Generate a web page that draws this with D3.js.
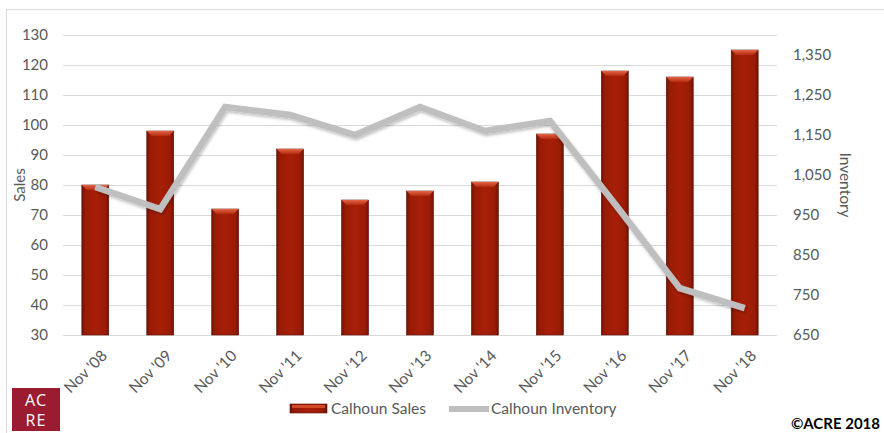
<!DOCTYPE html>
<html>
<head>
<meta charset="utf-8">
<script src="https://cdn.jsdelivr.net/npm/d3@7/dist/d3.min.js"></script>
<style>
  html, body { margin: 0; padding: 0; background: #fff; }
  svg { display: block; font-family: Lato, "Open Sans", sans-serif; }
</style>
</head>
<body>
<svg id="chart" width="884" height="433"></svg>
<script>
const categories = ["Nov '08", "Nov '09", "Nov '10", "Nov '11", "Nov '12", "Nov '13", "Nov '14", "Nov '15", "Nov '16", "Nov '17", "Nov '18"];
const sales = [80, 98, 72, 92, 75, 78, 81, 97, 118, 116, 125];
const inventory = [1020, 965, 1220, 1200, 1150, 1220, 1160, 1185, 978, 767, 717];
const salesTicks = [30, 40, 50, 60, 70, 80, 90, 100, 110, 120, 130];
const inventoryTicks = [650, 750, 850, 950, 1050, 1150, 1250, 1350];

const svg = d3.select("#chart");
const m = { left: 63, right: 777, top: 35, bottom: 335 };

const x = d3.scaleBand().domain(categories).range([m.left, m.right]).paddingInner(0.585).paddingOuter(0.29);
const yL = d3.scaleLinear().domain([30, 130]).range([m.bottom, m.top]);
const yR = d3.scaleLinear().domain([650, 1400]).range([m.bottom, m.top]);

const defs = svg.append("defs");
const grad = defs.append("linearGradient").attr("id", "barGrad").attr("x1", "0").attr("x2", "1").attr("y1", "0").attr("y2", "0");
grad.append("stop").attr("offset", "0").attr("stop-color", "#6e1306");
grad.append("stop").attr("offset", "0.12").attr("stop-color", "#981b06");
grad.append("stop").attr("offset", "0.5").attr("stop-color", "#a81f07");
grad.append("stop").attr("offset", "0.88").attr("stop-color", "#981b06");
grad.append("stop").attr("offset", "1").attr("stop-color", "#6e1306");
const capGrad = defs.append("linearGradient").attr("id", "capGrad").attr("x1", "0").attr("x2", "0").attr("y1", "0").attr("y2", "1");
capGrad.append("stop").attr("offset", "0").attr("stop-color", "#e46444");
capGrad.append("stop").attr("offset", "1").attr("stop-color", "#b42c10");
const shadow = defs.append("filter").attr("id", "lineShadow").attr("x", "-10%").attr("y", "-10%").attr("width", "120%").attr("height", "130%");
shadow.append("feDropShadow").attr("dx", 1).attr("dy", 2).attr("stdDeviation", 1.5).attr("flood-color", "#000").attr("flood-opacity", 0.25);

const tickFont = 15;

// outer frame
svg.append("rect").attr("x", 6.5).attr("y", 9.5).attr("width", 890).attr("height", 440)
  .attr("fill", "none").attr("stroke", "#d9d9d9");

// gridlines
svg.append("g").selectAll("line").data(salesTicks).join("line")
  .attr("x1", m.left).attr("x2", m.right)
  .attr("y1", d => Math.round(yL(d)) + 0.5).attr("y2", d => Math.round(yL(d)) + 0.5)
  .attr("stroke", "#d9d9d9").attr("stroke-width", 1);

// left axis
const leftAxis = svg.append("g").attr("transform", `translate(${m.left - 15},0)`)
  .call(d3.axisLeft(yL).tickValues(salesTicks).tickSize(0).tickPadding(0));
leftAxis.select(".domain").remove();
leftAxis.selectAll("text").attr("font-size", tickFont).attr("fill", "#595959").attr("font-family", "Lato, sans-serif");

// right axis
const rightAxis = svg.append("g").attr("transform", `translate(${m.right + 16},0)`)
  .call(d3.axisRight(yR).tickValues(inventoryTicks).tickSize(0).tickPadding(0).tickFormat(d3.format(",")));
rightAxis.select(".domain").remove();
rightAxis.selectAll("text").attr("font-size", tickFont).attr("fill", "#595959").attr("font-family", "Lato, sans-serif");

// bars
const bars = svg.append("g").selectAll("g").data(categories).join("g");
bars.append("rect")
  .attr("x", d => x(d)).attr("width", x.bandwidth())
  .attr("y", (d, i) => yL(sales[i])).attr("height", (d, i) => yL(30) - yL(sales[i]))
  .attr("fill", "url(#barGrad)").attr("stroke", "#5a1005").attr("stroke-width", 0.6);
bars.append("path")
  .attr("d", (d, i) => {
    const x0 = x(d), w = x.bandwidth(), y0 = yL(sales[i]);
    return `M${x0},${y0}L${x0 + w},${y0}L${x0 + w - 5},${y0 + 5}L${x0 + 5},${y0 + 5}Z`;
  })
  .attr("fill", "url(#capGrad)");

// inventory line
const line = d3.line().x((d, i) => x(categories[i]) + x.bandwidth() / 2).y(d => yR(d));
svg.append("path").datum(inventory).attr("d", line)
  .attr("fill", "none").attr("stroke", "#bfbfbf").attr("stroke-width", 6.5)
  .attr("stroke-linejoin", "miter").attr("filter", "url(#lineShadow)");

// category labels
svg.append("g").selectAll("text").data(categories).join("text")
  .attr("transform", d => `translate(${x(d) + x.bandwidth() / 2 + 5},${m.bottom + 14}) rotate(-45)`)
  .attr("text-anchor", "end").attr("dy", "0.7em")
  .attr("font-size", 15.5).attr("fill", "#595959").text(d => d);

// axis titles
svg.append("text").attr("transform", "translate(25,185) rotate(-90)")
  .attr("text-anchor", "middle").attr("font-size", 15).attr("fill", "#595959").text("Sales");
svg.append("text").attr("transform", "translate(840,185) rotate(90)")
  .attr("text-anchor", "middle").attr("font-size", 15.5).attr("fill", "#595959").text("Inventory");

// legend
const lg = svg.append("g");
lg.append("rect").attr("x", 290).attr("y", 404).attr("width", 37).attr("height", 9)
  .attr("fill", "url(#barGrad)").attr("stroke", "#5a1005").attr("stroke-width", 0.6);
lg.append("rect").attr("x", 292).attr("y", 405).attr("width", 33).attr("height", 3).attr("fill", "#d04a2a");
lg.append("text").attr("x", 331).attr("y", 414).attr("font-size", 15.5).attr("fill", "#595959").text("Calhoun Sales");
lg.append("line").attr("x1", 449).attr("x2", 489).attr("y1", 409).attr("y2", 409)
  .attr("stroke", "#bfbfbf").attr("stroke-width", 6);
lg.append("text").attr("x", 491).attr("y", 414).attr("font-size", 15.5).attr("fill", "#595959").text("Calhoun Inventory");

// logo
const logo = svg.append("g");
logo.append("rect").attr("x", 12).attr("y", 388).attr("width", 48).attr("height", 43).attr("fill", "#9b1c31");
logo.append("text").attr("x", 36).attr("y", 406).attr("text-anchor", "middle").attr("font-size", 16)
  .attr("fill", "#fff").attr("font-family", "Open Sans, sans-serif").attr("letter-spacing", 1).text("AC");
logo.append("text").attr("x", 36).attr("y", 426).attr("text-anchor", "middle").attr("font-size", 16)
  .attr("fill", "#fff").attr("font-family", "Open Sans, sans-serif").attr("letter-spacing", 1).text("RE");

svg.append("text").attr("x", 880).attr("y", 429).attr("text-anchor", "end").attr("font-size", 15)
  .attr("font-weight", "bold").attr("fill", "#000").text("©ACRE 2018");
</script>
</body>
</html>
